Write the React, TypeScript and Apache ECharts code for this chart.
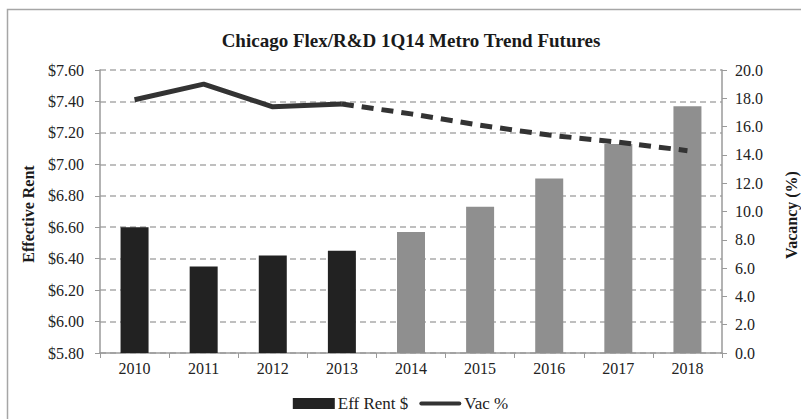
import React, { useEffect, useRef } from "react";
import * as echarts from "echarts";

const years = ["2010", "2011", "2012", "2013", "2014", "2015", "2016", "2017", "2018"];
const effRent = [6.6, 6.35, 6.42, 6.45, 6.57, 6.73, 6.91, 7.13, 7.37];
const forecastStart = 4; // index of first forecast year (bars in gray)
const vacActual = [17.9, 19.0, 17.4, 17.6, null, null, null, null, null];
const vacForecast = [null, null, null, 17.6, 16.9, 16.1, 15.4, 14.9, 14.3];

const FONT = "'Liberation Serif', 'Times New Roman', serif";

export default function App() {
  const ref = useRef<HTMLDivElement>(null);
  useEffect(() => {
    if (!ref.current) return;
    const chart = echarts.init(ref.current, undefined, { renderer: "svg" });
    chart.setOption({
      animation: false,
      backgroundColor: "#ffffff",
      textStyle: { fontFamily: FONT },
      graphic: [
        {
          type: "rect",
          shape: { x: 7.5, y: 9.5, width: 820, height: 440 },
          style: { fill: "none", stroke: "#a6a6a6", lineWidth: 1.5 },
          silent: true,
        },
        {
          type: "text",
          x: 411,
          y: 40,
          style: {
            text: "Chicago Flex/R&D 1Q14 Metro Trend Futures",
            fontFamily: FONT,
            fontWeight: "bold",
            fontSize: 19,
            fill: "#1a1a1a",
            align: "center",
            verticalAlign: "middle",
          },
        },
        {
          type: "text",
          x: 28,
          y: 214,
          rotation: Math.PI / 2,
          style: {
            text: "Effective Rent",
            fontFamily: FONT,
            fontWeight: "bold",
            fontSize: 16,
            fill: "#1a1a1a",
            align: "center",
            verticalAlign: "middle",
          },
        },
        {
          type: "text",
          x: 791,
          y: 215,
          rotation: Math.PI / 2,
          style: {
            text: "Vacancy (%)",
            fontFamily: FONT,
            fontWeight: "bold",
            fontSize: 16,
            fill: "#1a1a1a",
            align: "center",
            verticalAlign: "middle",
          },
        },
      ],
      grid: { left: 100, right: 79, top: 70, bottom: 66, containLabel: false },
      legend: {
        data: [
          { name: "Eff Rent $", icon: "rect" },
          {
            name: "Vac %",
            icon: "path://M0,0 M2,3.5 L40,3.5 A2,2 0 0 1 40,7.5 L2,7.5 A2,2 0 0 1 2,3.5 Z M42,11",
          },
        ],
        top: 390,
        left: "center",
        itemWidth: 42,
        itemHeight: 11,
        itemGap: 11,
        textStyle: { fontFamily: FONT, fontSize: 17, color: "#222", padding: [0, 0, 0, -2] },
      },
      xAxis: {
        type: "category",
        data: years,
        axisLine: { lineStyle: { color: "#9a9a9a", width: 1.5 } },
        axisTick: { show: true, length: 5, lineStyle: { color: "#9a9a9a" } },
        axisLabel: { fontFamily: FONT, fontSize: 16, color: "#222", margin: 7 },
      },
      yAxis: [
        {
          type: "value",
          min: 5.8,
          max: 7.6,
          interval: 0.2,
          axisLine: { show: true, lineStyle: { color: "#9a9a9a", width: 1.5 } },
          axisTick: { show: true, length: 5, lineStyle: { color: "#9a9a9a" } },
          axisLabel: {
            fontFamily: FONT,
            fontSize: 16,
            color: "#222",
            margin: 16,
            formatter: (v: number) => "$" + v.toFixed(2),
          },
          splitLine: { show: true, lineStyle: { color: "#ababab", width: 1.5, type: [6, 4] } },
        },
        {
          type: "value",
          min: 0,
          max: 20,
          interval: 2,
          axisLine: { show: true, lineStyle: { color: "#9a9a9a", width: 1.5 } },
          axisTick: { show: true, length: 5, lineStyle: { color: "#9a9a9a" } },
          axisLabel: {
            fontFamily: FONT,
            fontSize: 16,
            color: "#222",
            margin: 13,
            formatter: (v: number) => v.toFixed(1),
          },
          splitLine: { show: false },
        },
      ],
      series: [
        {
          name: "Eff Rent $",
          type: "bar",
          yAxisIndex: 0,
          barWidth: 28,
          itemStyle: { color: "#222222" },
          data: effRent.map((v, i) => ({
            value: v,
            itemStyle: { color: i < forecastStart ? "#222222" : "#8f8f8f" },
          })),
        },
        {
          name: "Vac %",
          type: "line",
          yAxisIndex: 1,
          symbol: "none",
          data: vacActual,
          lineStyle: { color: "#333333", width: 5 },
          itemStyle: { color: "#333333" },
          z: 3,
        },
        {
          name: "Vac % forecast",
          type: "line",
          yAxisIndex: 1,
          symbol: "none",
          data: vacForecast,
          lineStyle: { color: "#333333", width: 5, type: [12, 8] },
          itemStyle: { color: "#333333" },
          z: 3,
        },
      ],
    });
    return () => chart.dispose();
  }, []);
  return (
    <div
      ref={ref}
      style={{ position: "absolute", left: 0, top: 0, width: 801, height: 419 }}
    />
  );
}
